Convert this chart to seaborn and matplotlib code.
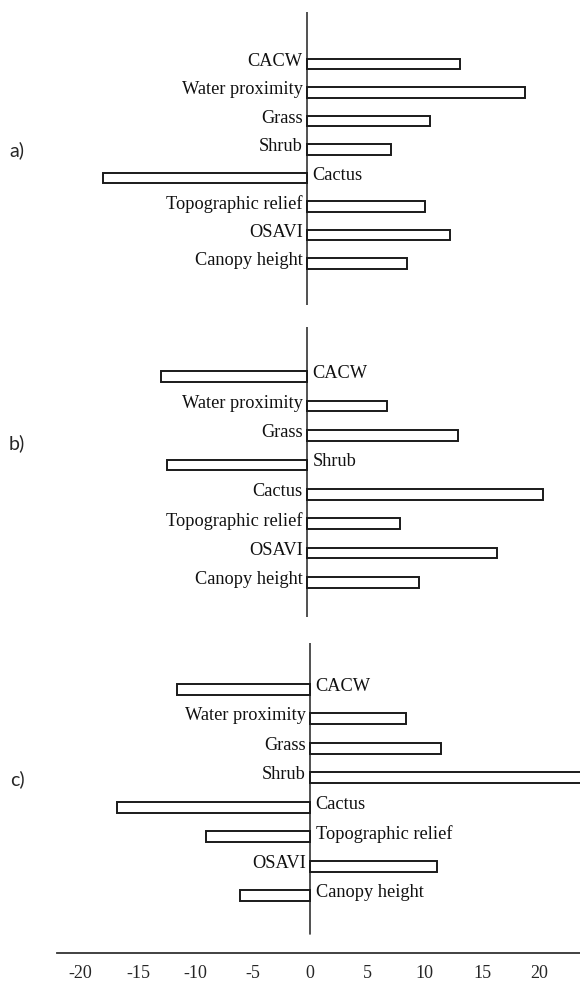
import matplotlib
matplotlib.use("Agg")
import matplotlib.pyplot as plt
import seaborn as sns

# importance scores, one list per panel
features = ["CACW", "Water proximity", "Grass", "Shrub", "Cactus",
            "Topographic relief", "OSAVI", "Canopy height"]
values_a = [13.3, 19.0, 10.7, 7.3, -17.8, 10.3, 12.5, 8.7]
values_b = [-12.7, 7.0, 13.2, -12.2, 20.6, 8.1, 16.6, 9.8]
values_c = [-11.6, 8.4, 11.4, 23.6, -16.8, -9.1, 11.1, -6.1]
panel_labels = ["a)", "b)", "c)"]
x_ticks = [-20, -15, -10, -5, 0, 5, 10, 15, 20]

sns.set_theme(style="white")
plt.rcParams["font.family"] = ["Liberation Serif", "DejaVu Serif"]

W, H = 580, 981
fig = plt.figure(figsize=(W / 100, H / 100), dpi=100)

# (top px, bottom px, ylim bottom, ylim top, zero-line bottom in axes frac, label y px, zero x px)
panels = [
    (11.7, 305.0, 8.46, -1.84, 0.0, 150, 307),
    (326.7, 616.7, 8.16, -1.70, 0.0, 443, 307),
    (643.3, 952.7, 8.93, -1.56, 0.0605, 779, 310),
]
x0_px, x1_px = 57, 580
px_per_unit = 11.475

for vals, lab, (top, bot, yb, yt, zmin, ly, zx) in zip(
        [values_a, values_b, values_c], panel_labels, panels):
    ax = fig.add_axes([x0_px / W, 1 - bot / H, (x1_px - x0_px) / W, (bot - top) / H])
    sns.barplot(x=vals, y=features, orient="h", color="white", saturation=1,
                edgecolor="#1a1a1a", linewidth=1.4, width=0.36, ax=ax)
    ax.set_xlim((x0_px - zx) / px_per_unit, (x1_px - zx) / px_per_unit)
    ax.set_ylim(yb, yt)
    ax.axvline(0, ymin=zmin, ymax=1, color="#333333", lw=1.2, zorder=0)
    for i, v in enumerate(vals):
        if v >= 0:
            ax.annotate(features[i], (0, i - 0.1), xytext=(-3, 0),
                        textcoords="offset points", ha="right", va="center",
                        fontsize=13.2, color="#111111")
        else:
            ax.annotate(features[i], (0, i - 0.1), xytext=(4, 0),
                        textcoords="offset points", ha="left", va="center",
                        fontsize=13.2, color="#111111")
    ax.set_ylabel("")
    ax.set_xlabel("")
    ax.set_yticks([])
    for s in ["top", "right", "left"]:
        ax.spines[s].set_visible(False)
    if lab == "c)":
        ax.spines["bottom"].set_color("#333333")
        ax.spines["bottom"].set_linewidth(1.3)
        ax.set_xticks(x_ticks)
        ax.set_xticklabels([str(t) for t in x_ticks], fontsize=13)
        ax.tick_params(axis="x", length=0, pad=9)
    else:
        ax.spines["bottom"].set_visible(False)
        ax.set_xticks([])
    fig.text(17 / W, 1 - ly / H, lab, fontsize=14, family="Lato",
             ha="center", va="center")

fig.savefig("out.png", dpi=100)
